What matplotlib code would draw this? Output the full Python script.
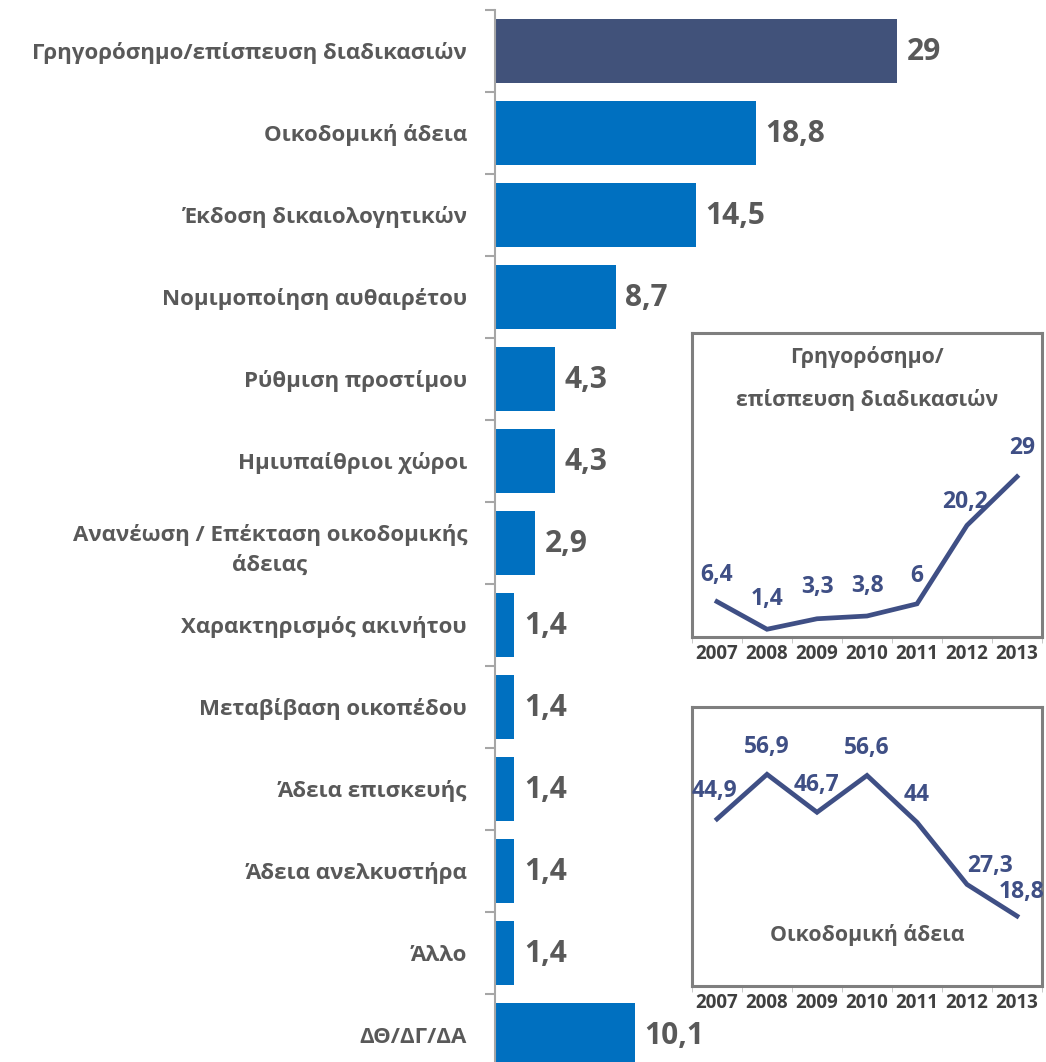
import matplotlib
matplotlib.use("Agg")
import matplotlib.pyplot as plt
import numpy as np

plt.rcParams['font.family'] = ['Open Sans', 'DejaVu Sans']
plt.rcParams['font.weight'] = 'bold'

# main bar chart data
categories = ["Γρηγορόσημο/επίσπευση διαδικασιών", "Οικοδομική άδεια",
              "Έκδοση δικαιολογητικών", "Νομιμοποίηση αυθαιρέτου",
              "Ρύθμιση προστίμου", "Ημιυπαίθριοι χώροι",
              "Ανανέωση / Επέκταση οικοδομικής\nάδειας",
              "Χαρακτηρισμός ακινήτου", "Μεταβίβαση οικοπέδου",
              "Άδεια επισκευής", "Άδεια ανελκυστήρα", "Άλλο", "ΔΘ/ΔΓ/ΔΑ"]
values = [29, 18.8, 14.5, 8.7, 4.3, 4.3, 2.9, 1.4, 1.4, 1.4, 1.4, 1.4, 10.1]

# inset data
years = ["2007", "2008", "2009", "2010", "2011", "2012", "2013"]
fast_track = [6.4, 1.4, 3.3, 3.8, 6, 20.2, 29]
building_permit = [44.9, 56.9, 46.7, 56.6, 44, 27.3, 18.8]

navy = '#41527A'
blue = '#0070C0'
line_col = '#3F4F85'
gray_txt = '#595959'

def fmt(v):
    return f"{v:g}".replace('.', ',')

W, H = 1046, 1062
fig = plt.figure(figsize=(W / 100, H / 100), dpi=100)

def frac(l, t, r, b):
    return [l / W, (H - b) / H, (r - l) / W, (b - t) / H]

ax = fig.add_axes(frac(495, 10, 1046, 1076))
ypos = np.arange(len(categories))
colors = [navy] + [blue] * (len(categories) - 1)
ax.barh(ypos, values, height=0.78, color=colors)
ax.set_xlim(0, 39.75)
ax.set_ylim(len(categories) - 0.5, -0.5)
for y, v in zip(ypos, values):
    ax.annotate(fmt(v), (v, y), xytext=(7, -1), textcoords='offset points',
                va='center', ha='left', fontsize=21.5, color=gray_txt, fontweight='bold')

for s in ['top', 'right', 'bottom']:
    ax.spines[s].set_visible(False)
ax.spines['left'].set_color('#A6A6A6')
ax.spines['left'].set_linewidth(1.5)
ax.set_xticks([])
ax.set_yticks(ypos)
ax.set_yticklabels(categories, fontsize=16, color=gray_txt, fontweight='bold')
for lab in ax.get_yticklabels():
    lab.set_multialignment('center')
    lab.set_linespacing(1.55)
ax.tick_params(axis='y', which='major', length=0, pad=20)
ax.set_yticks(np.arange(-0.5, len(categories)), minor=True)
ax.tick_params(axis='y', which='minor', length=7, width=1.5, color='#A6A6A6')


def inset(box, data, ymax, offsets, title, title_xy):
    a = fig.add_axes(frac(*box))
    x = np.arange(len(years))
    a.plot(x, data, color=line_col, lw=3.4, solid_joinstyle='miter')
    a.set_xlim(-0.5, len(years) - 0.5)
    a.set_ylim(0, ymax)
    for xi, v, off in zip(x, data, offsets):
        a.annotate(fmt(v), (xi, v), xytext=off, textcoords='offset points',
                   ha='center', va='center', fontsize=16.5, color=line_col,
                   fontweight='bold', annotation_clip=False)
    a.text(title_xy[0], title_xy[1], title, transform=a.transAxes, ha='center',
           va='center', fontsize=15.3, color=gray_txt, fontweight='bold',
           linespacing=2.2)
    for s in a.spines.values():
        s.set_color('#7F7F7F')
        s.set_linewidth(2.2)
    a.set_yticks([])
    a.set_xticks(x)
    a.set_xticklabels(years, fontsize=13.5, color='#404040', fontweight='bold')
    a.tick_params(axis='x', which='major', length=0, pad=5)
    a.set_xticks(np.arange(-0.5, len(years)), minor=True)
    a.tick_params(axis='x', which='minor', length=4, color='#BFBFBF')
    return a

inset((692, 333, 1042, 637), fast_track, 55,
      [(0, 19.5), (0, 21.5), (0, 23), (0, 21.5), (0, 20), (-1.5, 17), (3.5, 21)],
      "Γρηγορόσημο/\nεπίσπευση διαδικασιών", (0.5, 0.85))
inset((692, 707, 1042, 986), building_permit, 75,
      [(-1.5, 20), (0, 19.5), (0, 19.5), (0, 19.5), (0, 19.5), (16.5, 13), (3.5, 17)],
      "Οικοδομική άδεια", (0.5, 0.183))

fig.savefig("out.png", dpi=100)
